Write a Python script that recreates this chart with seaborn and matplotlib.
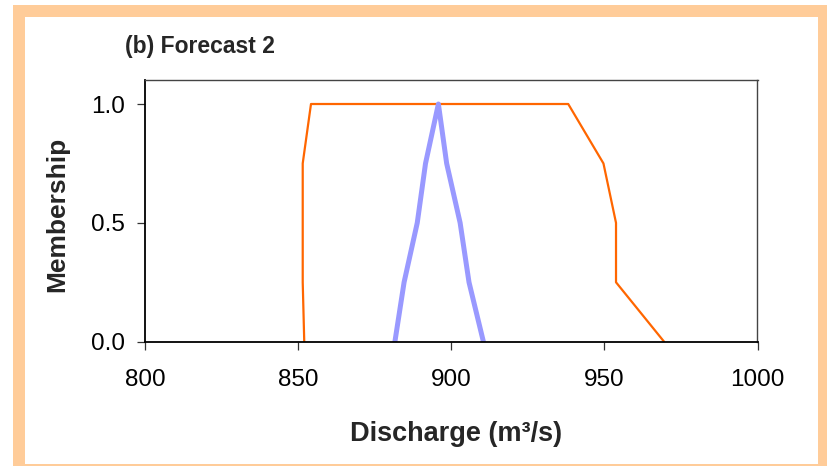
import matplotlib
matplotlib.use("Agg")
import matplotlib.pyplot as plt
import seaborn as sns
import pandas as pd
from matplotlib.patches import Rectangle

# ---- data ----
orange_x = [852.0, 851.5, 851.5, 851.5, 854.2, 938.2, 949.7, 953.8, 953.8, 969.5]
orange_y = [0.0, 0.25, 0.5, 0.75, 1.0, 1.0, 0.75, 0.5, 0.25, 0.0]
blue_x = [881.6, 884.6, 888.9, 891.6, 895.8, 898.5, 902.9, 905.8, 910.5]
blue_y = [0.0, 0.25, 0.5, 0.75, 1.0, 0.75, 0.5, 0.25, 0.0]
x_ticks = [800, 850, 900, 950, 1000]
y_ticks = [0.0, 0.5, 1.0]
y_tick_labels = ["0.0", "0.5", "1.0"]
title = "(b) Forecast 2"
x_label = "Discharge (m³/s)"
y_label = "Membership"

sns.set_style("white")
plt.rcParams["font.family"] = ["Liberation Sans", "DejaVu Sans"]

W, H = 828, 466
fig = plt.figure(figsize=(W / 100, H / 100), dpi=100)
fig.patch.set_facecolor("white")

# peach frame
fig.patches.append(Rectangle((13 / W, 0), (W - 13) / W, (H - 5) / H,
                             transform=fig.transFigure, facecolor="#FFCC99",
                             edgecolor="none", zorder=-10))
fig.patches.append(Rectangle((25 / W, 2 / H), (818 - 25) / W, (464 - 17) / H,
                             transform=fig.transFigure, facecolor="white",
                             edgecolor="none", zorder=-9))

ax_l, ax_r, ax_t, ax_b = 145, 757.5, 80, 341.7
ax = fig.add_axes([ax_l / W, (H - ax_b) / H, (ax_r - ax_l) / W, (ax_b - ax_t) / H])
ax.set_facecolor("white")

df_o = pd.DataFrame({"x": orange_x, "y": orange_y})
df_b = pd.DataFrame({"x": blue_x, "y": blue_y})
sns.lineplot(data=df_o, x="x", y="y", sort=False, estimator=None, ax=ax,
             color="#FF6600", linewidth=1.6)
sns.lineplot(data=df_b, x="x", y="y", sort=False, estimator=None, ax=ax,
             color="#9999FF", linewidth=3.6)

ax.set_xlim(800, 1000)
ax.set_ylim(0, 1.101)
ax.set_xticks(x_ticks)
ax.set_yticks(y_ticks)
ax.set_yticklabels(y_tick_labels)
ax.set_xlabel("")
ax.set_ylabel("")

for side in ["left", "bottom"]:
    ax.spines[side].set_color("black")
    ax.spines[side].set_linewidth(1.3)
for side in ["top", "right"]:
    ax.spines[side].set_color("#444444")
    ax.spines[side].set_linewidth(1.0)

ax.tick_params(axis="both", direction="out", length=5.5, width=0.9,
               color="#333333", labelsize=17.5, labelcolor="black")
ax.tick_params(axis="x", pad=14, bottom=True)
ax.tick_params(axis="y", pad=9, left=True)

fig.text(125 / W, (H - 53) / H, title, fontsize=16.5, fontweight="bold",
         ha="left", va="baseline")
fig.text(456.5 / W, (H - 441) / H, x_label, fontsize=19.5, fontweight="bold",
         ha="center", va="baseline")
fig.text(57 / W, (H - 214) / H, y_label, fontsize=19, fontweight="bold",
         rotation=90, ha="center", va="center")

fig.savefig("out.png", dpi=100)
